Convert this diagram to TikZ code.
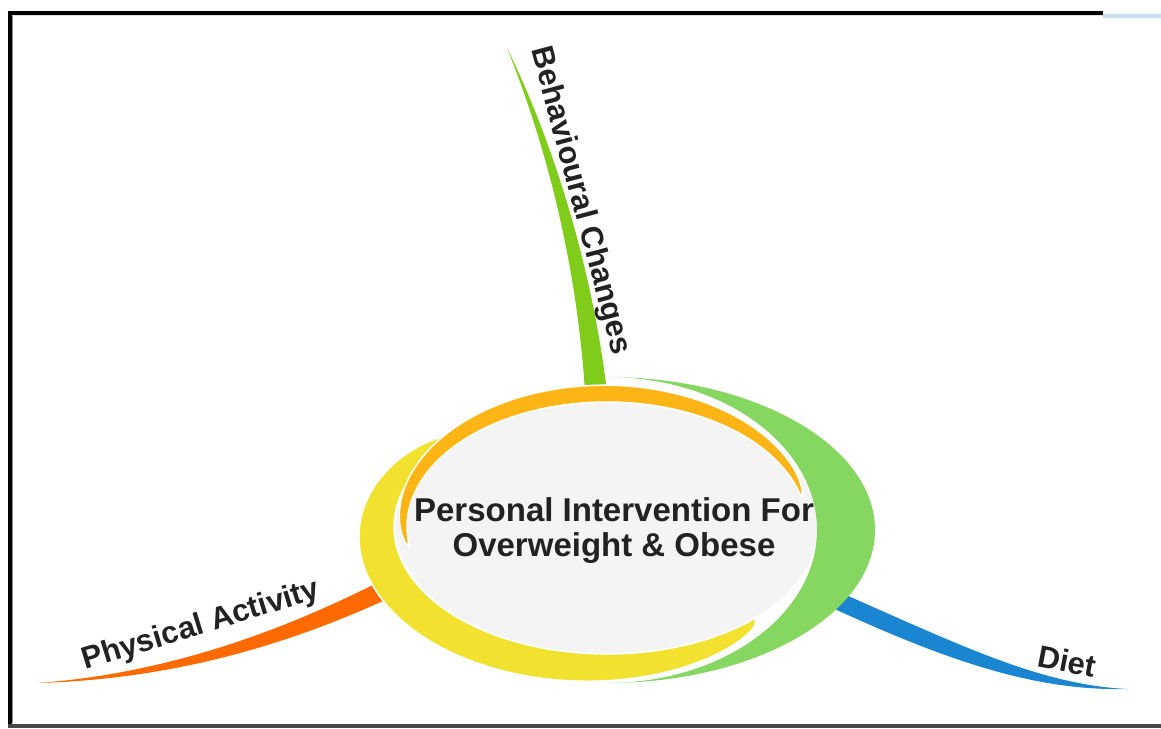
\documentclass[tikz,border=0pt]{standalone}
\usepackage{fontspec}
\setmainfont{Liberation Sans}
\definecolor{hubgray}{HTML}{F4F4F4}
\definecolor{ringgreen}{HTML}{86D762}
\definecolor{ringyellow}{HTML}{F2E12E}
\definecolor{ringorange}{HTML}{FDB515}
\definecolor{stemgreen}{HTML}{80CC1A}
\definecolor{stemorange}{HTML}{FF6A00}
\definecolor{stemblue}{HTML}{1A85D0}
\definecolor{inktext}{HTML}{222222}
\definecolor{edgeblue}{HTML}{C6DDF2}

\tikzstyle{every node}=[inner sep=0pt, text=inktext]
\tikzstyle{hub}=[align=center, font={\bfseries\fontsize{33}{35}\selectfont}]
\tikzstyle{branchtext}=[font={\bfseries\fontsize{31}{33}\selectfont}]
\tikzstyle{gap}=[draw=white, line width=1.5pt]

\newcommand{\ringband}[9]{%
  \fill[#1] plot[domain=0:1, samples=90] ({#2+(#4+#8*sqrt(abs(sin(180*\x))))*cos(#6+(#7-#6)*\x)}, {#3+(#5+#9*sqrt(abs(sin(180*\x))))*sin(#6+(#7-#6)*\x)})
    -- plot[domain=0:1, samples=90] ({#2+#4*cos(#7+(#6-#7)*\x)}, {#3+#5*sin(#7+(#6-#7)*\x)}) -- cycle;}

\begin{document}
\begin{tikzpicture}[x=1pt, y=-1pt]
    \useasboundingbox (0,0) rectangle (1161,728);
    \draw[line width=4pt] (9.5,11) -- (9.5,727);
    \draw[black!45, line width=1.2pt] (12.5,15) -- (12.5,723);
    \draw[line width=4pt] (7.5,13) -- (1103,13);
    \draw[black!12, line width=1.2pt] (12,15.6) -- (1103,15.6);
    \fill[edgeblue] (1103,14) rectangle (1161,18);
    \draw[black!72, line width=4pt] (7.5,725.5) -- (1161,725.5);

    \fill[hubgray] (607,527) ellipse [x radius=211, y radius=126];

    \coordinate (behav tip) at (507,48);
    \coordinate (phys tip) at (37,683);
    \coordinate (diet tip) at (1128,689);
    \fill[stemgreen] (behav tip) .. controls (540,130) and (576,250) .. (585,392)
        -- (607,392) .. controls (590,250) and (545,125) .. (behav tip);
    \fill[stemorange] (phys tip) .. controls (150,680) and (270,655) .. (400,593)
        -- (400,571) .. controls (270,640) and (150,675) .. (phys tip);
    \fill[stemblue] (diet tip) .. controls (1040,691) and (955,665) .. (826,605)
        -- (830,588) .. controls (960,645) and (1040,685) .. (diet tip);

    \fill[ringgreen] (607,377) arc[start angle=-90, end angle=90, x radius=268, y radius=153]
        arc[start angle=90, end angle=-90, x radius=210, y radius=153] -- cycle;
    \ringband{ringyellow, gap}{607}{527}{213}{127}{225}{46}{41}{32}
    \ringband{ringorange, gap}{607}{527}{200}{125}{171}{346}{17}{17}

    \node[hub] (hub) at (614,531) {Personal Intervention For\\Overweight \& Obese};
    \node[branchtext, rotate=-75] (behav) at (580,201) {Behavioural Changes};
    \node[branchtext, rotate=17] (phys) at (201,626) {Physical Activity};
    \node[branchtext, rotate=-11] (diet) at (1067,661) {Diet};
\end{tikzpicture}
\end{document}
